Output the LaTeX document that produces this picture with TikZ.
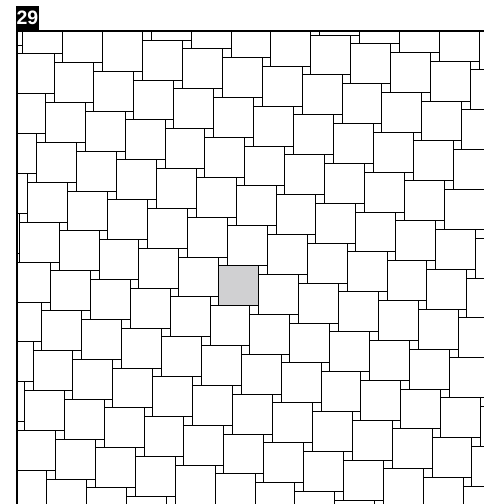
\documentclass[tikz,border=0pt]{standalone}
\usepackage{fontspec}
\setsansfont{Liberation Sans}
\definecolor{tilegray}{HTML}{D0D0D2}

\tikzset{
  tile/.style={draw=black, line width=0.9bp},
  frame/.style={draw=black, line width=2bp},
}

\begin{document}
\begin{tikzpicture}[x=1bp, y=-1bp]
  \useasboundingbox (0,0) rectangle (484,504);

  % Pythagorean tiling: big square 39.9, small square 8.7
  \begin{scope}
    \clip (17,31) rectangle (484,504);
    \fill[tilegray] (218.7,265.7) rectangle ++(39.9,39.9);
    \foreach \m in {-9,...,9}{
      \foreach \n in {-9,...,9}{
        \pgfmathsetmacro\px{218.7+\m*39.9-\n*8.7}
        \pgfmathsetmacro\py{265.7+\m*8.7+\n*39.9}
        \draw[tile] (\px,\py) rectangle ++(39.9,39.9);
        \draw[tile] (\px,\py) rectangle ++(8.7,-8.7);
      }
    }
  \end{scope}

  % Frame
  \draw[frame] (16.8,504) -- (16.8,30.8) -- (484,30.8);

  % Figure number
  \fill[black] (15.8,5.7) rectangle (39.3,31);
  \node[text=white, font=\sffamily\bfseries\fontsize{19.5}{19.5}\selectfont, inner sep=0pt] (label29) at (27.5,18.2) {29};
\end{tikzpicture}
\end{document}
